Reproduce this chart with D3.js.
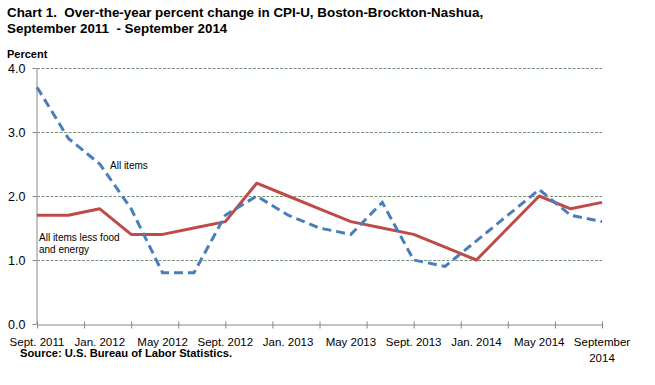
<!DOCTYPE html>
<html>
<head>
<meta charset="utf-8">
<script src="https://cdn.jsdelivr.net/npm/d3@7/dist/d3.min.js"></script>
<style>
  body { margin: 0; background: #fff; }
  svg { display: block; font-family: "Liberation Sans", Arial, sans-serif; }
</style>
</head>
<body>
<div id="chart"></div>
<script>
// bimonthly Boston CPI periods (year-month)
const periods = ["2011-09", "2011-11", "2012-01", "2012-03", "2012-05", "2012-07", "2012-09", "2012-11",
  "2013-01", "2013-03", "2013-05", "2013-07", "2013-09", "2013-11", "2014-01", "2014-03",
  "2014-05", "2014-07", "2014-09"];
const allItems = [3.7, 2.9, 2.5, 1.8, 0.8, 0.8, 1.7, 2.0, 1.7, 1.5, 1.4, 1.9, 1.0, 0.9, 1.3, 1.7, 2.1, 1.7, 1.6];
const lessFoodEnergy = [1.7, 1.7, 1.8, 1.4, 1.4, 1.5, 1.6, 2.2, 2.0, 1.8, 1.6, 1.5, 1.4, 1.2, 1.0, 1.5, 2.0, 1.8, 1.9];

const labelPeriods = ["2011-09", "2012-01", "2012-05", "2012-09", "2013-01", "2013-05", "2013-09", "2014-01", "2014-05", "2014-09"];
const labelTexts = ["Sept. 2011", "Jan. 2012", "May 2012", "Sept. 2012", "Jan. 2013", "May 2013", "Sept. 2013", "Jan. 2014", "May 2014", "September 2014"];
const yTicks = [0, 1, 2, 3, 4];

const W = 655, H = 385;
const monthIndex = p => {
  const [yy, mm] = p.split("-").map(Number);
  return (yy - 2011) * 12 + (mm - 9);
};

const x = d3.scaleLinear().domain([0, 36]).range([37, 602]);
const y = d3.scaleLinear().domain([0, 4]).range([324, 68]);

const svg = d3.select("#chart").append("svg")
  .attr("width", W).attr("height", H);

// title (keep the double spaces)
const title = svg.append("text")
  .attr("x", 7).attr("y", 17)
  .style("white-space", "pre")
  .attr("font-size", "13.4px").attr("font-weight", "bold").attr("fill", "#000");
title.append("tspan").attr("x", 7).attr("dy", 0)
  .text("Chart 1.  Over-the-year percent change in CPI-U, Boston-Brockton-Nashua,");
title.append("tspan").attr("x", 7).attr("dy", 16)
  .text("September 2011  - September 2014");

svg.append("text")
  .attr("x", 7).attr("y", 58)
  .attr("font-size", "11px").attr("font-weight", "bold")
  .text("Percent");

// gridlines
svg.append("g")
  .selectAll("line")
  .data(yTicks.filter(d => d > 0))
  .enter().append("line")
  .attr("x1", x(0)).attr("x2", x(36))
  .attr("y1", d => y(d) + 0.5).attr("y2", d => y(d) + 0.5)
  .attr("stroke", "#7a917a")
  .attr("stroke-width", 1)
  .attr("stroke-dasharray", "3,1.5");

// y axis
const yAxis = svg.append("g")
  .attr("transform", `translate(${x(0) - 0.5},0)`)
  .call(d3.axisLeft(y).tickValues(yTicks).tickSize(4).tickSizeOuter(0).tickFormat(d3.format(".1f")));
yAxis.select(".domain").attr("stroke", "#868686");
yAxis.selectAll(".tick line").attr("stroke", "#868686");
yAxis.selectAll(".tick text")
  .attr("x", -11)
  .attr("font-size", "12.5px")
  .attr("font-family", "Liberation Sans, Arial, sans-serif")
  .attr("fill", "#000");

// x axis ticks (every 3 months, crossing the axis line)
const xAxis = svg.append("g")
  .attr("transform", `translate(0,${y(0) + 0.5})`)
  .call(d3.axisBottom(x).tickValues(d3.range(0, 37, 3)).tickSize(4).tickSizeOuter(0).tickFormat(""));
xAxis.select(".domain").attr("stroke", "#868686");
xAxis.selectAll(".tick line").attr("y1", -3).attr("stroke", "#868686");

// x labels (every 4 months)
const xl = svg.append("g")
  .selectAll("text")
  .data(labelPeriods)
  .enter().append("text")
  .attr("text-anchor", "middle")
  .attr("font-size", "11.5px")
  .attr("fill", "#000")
  .attr("x", d => x(monthIndex(d)))
  .attr("y", 346);
xl.each(function (d, i) {
  const t = d3.select(this);
  const txt = labelTexts[i];
  if (i === labelTexts.length - 1) {
    const parts = txt.split(" ");
    t.append("tspan").attr("x", x(monthIndex(d))).attr("dy", 0).text(parts[0]);
    t.append("tspan").attr("x", x(monthIndex(d))).attr("dy", 16).text(parts[1]);
  } else {
    t.text(txt);
  }
});

// lines
const line = d3.line()
  .x((d, i) => x(monthIndex(periods[i])))
  .y(d => y(d));

svg.append("path")
  .datum(lessFoodEnergy)
  .attr("d", line)
  .attr("fill", "none")
  .attr("stroke", "#be4b48")
  .attr("stroke-width", 3)
  .attr("stroke-linejoin", "round");

svg.append("path")
  .datum(allItems)
  .attr("d", line)
  .attr("fill", "none")
  .attr("stroke", "#4a7ebb")
  .attr("stroke-width", 3)
  .attr("stroke-dasharray", "9,5");

// series labels
svg.append("text")
  .attr("x", 110).attr("y", 169)
  .attr("font-size", "10px")
  .text("All items");

const lbl = svg.append("text")
  .attr("x", 39).attr("y", 241)
  .attr("font-size", "10px");
lbl.append("tspan").attr("x", 39).attr("dy", 0).text("All items less food");
lbl.append("tspan").attr("x", 39).attr("dy", 12).text("and energy");

// source
svg.append("text")
  .attr("x", 20).attr("y", 357)
  .attr("font-size", "11.2px").attr("font-weight", "bold")
  .text("Source: U.S. Bureau of Labor Statistics.");
</script>
</body>
</html>
